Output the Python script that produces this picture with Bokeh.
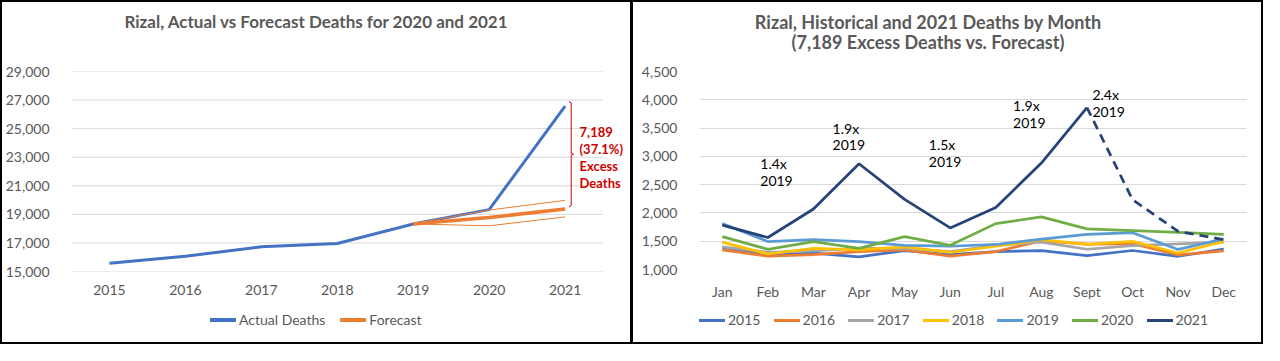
from bokeh.plotting import figure
from bokeh.layouts import row, column
from bokeh.models import (FixedTicker, NumeralTickFormatter, Label, Range1d, Div)
from bokeh.embed import file_html
from bokeh.resources import INLINE

# ---------------- data ----------------
years = ["2015", "2016", "2017", "2018", "2019", "2020", "2021"]
actual_deaths = [15580, 16070, 16730, 16960, 18330, 19330, 26570]
forecast_years = ["2019", "2020", "2021"]
forecast = [18330, 18780, 19380]
forecast_upper = [18330, 19300, 19980]
forecast_lower = [18330, 18200, 18820]
excess_lines = ["7,189", "(37.1%)", "Excess", "Deaths"]
left_yticks = [15000, 17000, 19000, 21000, 23000, 25000, 27000, 29000]
left_title = "Rizal, Actual vs Forecast Deaths for 2020 and 2021"
left_legend = [("Actual Deaths", "#4472C4"), ("Forecast", "#ED7D31")]

months = ["Jan", "Feb", "Mar", "Apr", "May", "Jun", "Jul", "Aug", "Sept", "Oct", "Nov", "Dec"]
m2015 = [1390, 1252, 1290, 1225, 1335, 1263, 1318, 1333, 1246, 1336, 1234, 1360]
m2016 = [1346, 1236, 1263, 1318, 1346, 1236, 1318, 1505, 1450, 1455, 1258, 1330]
m2017 = [1400, 1302, 1329, 1373, 1373, 1318, 1428, 1482, 1358, 1420, 1455, 1482]
m2018 = [1483, 1274, 1373, 1346, 1400, 1302, 1411, 1527, 1445, 1497, 1291, 1497]
m2019 = [1812, 1494, 1527, 1494, 1428, 1411, 1442, 1537, 1619, 1650, 1355, 1540]
m2020 = [1581, 1357, 1494, 1373, 1581, 1428, 1811, 1931, 1718, 1688, 1655, 1621]
m2021_actual = [1784, 1565, 2070, 2870, 2240, 1735, 2097, 2881, 3863, None, None, None]
m2021_projected = [None, None, None, None, None, None, None, None, 3863, 2234, 1675, 1527]
monthly_series = [("2015", m2015), ("2016", m2016), ("2017", m2017), ("2018", m2018),
                  ("2019", m2019), ("2020", m2020)]
ratio_labels = ["1.4x", "1.9x", "1.5x", "1.9x", "2.4x"]
ratio_base = "2019"
right_yticks = [1000, 1500, 2000, 2500, 3000, 3500, 4000, 4500]
right_title = ["Rizal, Historical and 2021 Deaths by Month", "(7,189 Excess Deaths vs. Forecast)"]

# ---------------- style ----------------
FONT = "Lato"
GRAY = "#595959"
GRID = "#D9D9D9"
RED = "#D00000"
colors = {"2015": "#4472C4", "2016": "#ED7D31", "2017": "#A5A5A5", "2018": "#FFC000",
          "2019": "#5B9BD5", "2020": "#70AD47", "2021": "#264478"}
W, HT, HM, HL = 628, 56, 244, 40


def style_axes(p):
    for ax in (p.xaxis[0], p.yaxis[0]):
        ax.axis_line_color = None
        ax.major_tick_line_color = None
        ax.minor_tick_line_color = None
        ax.major_label_text_font = FONT
        ax.major_label_text_font_size = "14px"
        ax.major_label_text_color = GRAY
    p.yaxis.major_label_standoff = 16
    p.xaxis.major_label_standoff = 7
    p.xgrid.grid_line_color = None
    p.ygrid.grid_line_color = GRID
    p.outline_line_color = None
    p.background_fill_color = "white"
    p.border_fill_color = "white"


def title_div(lines, size, shift):
    inner = "<br>".join(lines)
    html = (f'<div style="width:{W - 2 * abs(shift)}px; margin-left:{max(0, 2 * shift)}px; '
            f'padding-top:10px; text-align:center; font-family:{FONT}; font-weight:bold; '
            f'font-size:{size}px; line-height:20px; color:{GRAY}; white-space:nowrap">{inner}</div>')
    return Div(text=html, width=W, height=HT, margin=0)


def legend_div(entries, left, item_width, thick):
    parts = []
    for label, color in entries:
        w = f"width:{item_width}px;" if item_width else "margin-right:15px;"
        parts.append(
            f'<span style="display:inline-flex; align-items:center; {w}">'
            f'<span style="display:inline-block; width:26px; height:{thick}px; background:{color}; '
            f'margin-right:3px"></span>'
            f'<span style="font-family:{FONT}; font-size:14px; color:{GRAY}">{label}</span></span>')
    html = (f'<div style="display:flex; align-items:center; height:36px; padding-left:{left}px; '
            f'white-space:nowrap">{"".join(parts)}</div>')
    return Div(text=html, width=W, height=HL, margin=0)


# ---------------- left chart ----------------
n = len(years)
p1 = figure(width=W, height=HM, output_backend="svg", toolbar_location=None,
            x_range=Range1d(-0.5, 6.861), y_range=Range1d(left_yticks[0], left_yticks[-1]),
            min_border_left=66, min_border_right=0, min_border_top=13, min_border_bottom=31)
style_axes(p1)
p1.ygrid.grid_line_color = None
p1.segment(x0=[-0.5] * len(left_yticks), y0=left_yticks, x1=[n - 0.5] * len(left_yticks),
           y1=left_yticks, line_color=GRID, line_width=1, level="underlay")
xi = list(range(n))
p1.xaxis.ticker = FixedTicker(ticks=xi)
p1.xaxis.major_label_overrides = {i: y for i, y in enumerate(years)}
p1.yaxis.ticker = FixedTicker(ticks=left_yticks)
p1.yaxis.formatter = NumeralTickFormatter(format="0,0")

fx = [years.index(y) for y in forecast_years]
p1.line(xi, actual_deaths, line_color=colors["2015"], line_width=3)
p1.line(fx, forecast_upper, line_color="#ED7D31", line_width=1)
p1.line(fx, forecast_lower, line_color="#ED7D31", line_width=1)
p1.line(fx, forecast, line_color="#ED7D31", line_width=3.5)

bx = xi[-1] + 0.08
top, bot = actual_deaths[-1] + 330, forecast[-1] + 140
mid = (top + bot) / 2
p1.multi_line([[bx - 0.03, bx, bx, bx + 0.03, bx, bx, bx - 0.03]],
              [[top, top - 100, mid + 60, mid, mid - 60, bot + 100, bot]],
              line_color=RED, line_width=1)
for txt, yv in zip(excess_lines, [24760, 23600, 22400, 21220]):
    p1.add_layout(Label(x=xi[-1] + 0.19, y=yv, text=txt, text_font=FONT,
                        text_font_size="13px", text_font_style="bold", text_color=RED,
                        text_baseline="middle", text_align="left"))

left_panel = column(title_div([left_title], 17, 0), p1,
                    legend_div(left_legend, 208, None, 4), spacing=0,
                    styles={"border-top": "2px solid black", "border-left": "2px solid black",
                            "border-bottom": "2px solid black", "border-right": "1px solid black"})

# ---------------- right chart ----------------
p2 = figure(width=W, height=HM, output_backend="svg", toolbar_location=None,
            x_range=Range1d(-0.5, len(months) - 0.5), y_range=Range1d(right_yticks[0], right_yticks[-1]),
            min_border_left=66, min_border_right=15, min_border_top=13, min_border_bottom=31)
style_axes(p2)
mi = list(range(len(months)))
p2.xaxis.ticker = FixedTicker(ticks=mi)
p2.xaxis.major_label_overrides = {i: m for i, m in enumerate(months)}
p2.yaxis.ticker = FixedTicker(ticks=right_yticks)
p2.yaxis.formatter = NumeralTickFormatter(format="0,0")

for name, vals in monthly_series:
    p2.line(mi, vals, line_color=colors[name], line_width=2.75)
a_x = [i for i, v in zip(mi, m2021_actual) if v is not None]
a_y = [v for v in m2021_actual if v is not None]
p_x = [i for i, v in zip(mi, m2021_projected) if v is not None]
p_y = [v for v in m2021_projected if v is not None]
p2.line(a_x, a_y, line_color=colors["2021"], line_width=2.75)
p2.line(p_x, p_y, line_color=colors["2021"], line_width=2.75, line_dash="9 6")

ann_x = [0.833, 2.42, 4.53, 6.38, 8.12]
ann_y1 = [2873, 3497, 3202, 3892, 4089]
ann_y2 = [2569, 3193, 2898, 3588, 3785]
for t, x, y1, y2 in zip(ratio_labels, ann_x, ann_y1, ann_y2):
    for txt, yv in ((t, y1), (ratio_base, y2)):
        p2.add_layout(Label(x=x, y=yv, text=txt, text_font=FONT, text_font_size="14px",
                            text_color="black", text_align="left", text_baseline="middle"))

right_legend = [(name, colors[name]) for name, _ in monthly_series] + [("2021", colors["2021"])]
right_panel = column(title_div(right_title, 18, -19), p2,
                     legend_div(right_legend, 66, 74.6, 3), spacing=0,
                     styles={"border": "2px solid black"})

layout = row(left_panel, right_panel, spacing=0)
open("out.html", "w").write(file_html(layout, INLINE))
